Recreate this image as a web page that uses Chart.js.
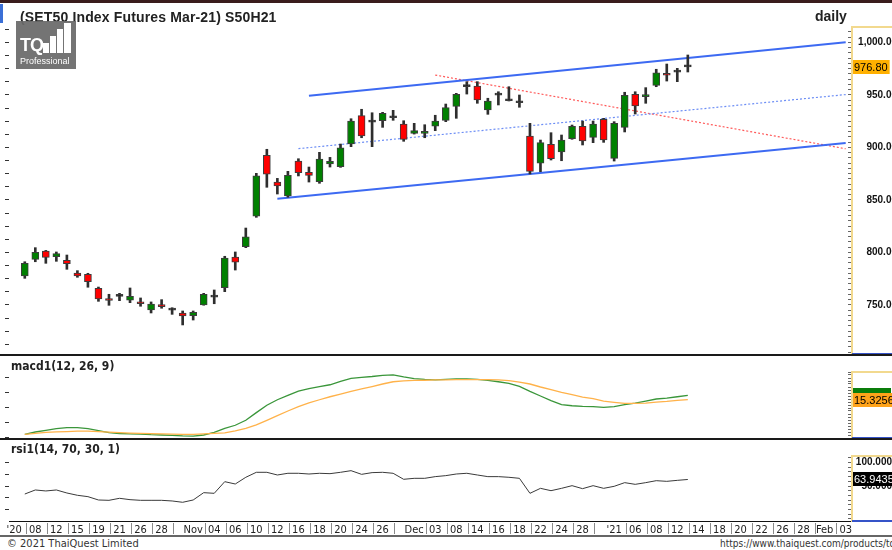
<!DOCTYPE html>
<html>
<head>
<meta charset="utf-8">
<script src="https://cdn.jsdelivr.net/npm/chart.js@4.4.1/dist/chart.umd.min.js"></script>
<style>
  html, body { margin: 0; padding: 0; background: #fff; }
  #wrap { position: relative; width: 892px; height: 550px; overflow: hidden; background: #fff; }
  canvas { position: absolute; left: 0; }
  .abs { position: absolute; white-space: nowrap; }
  .head { font: bold 14px "Liberation Sans", Arial, sans-serif; color: #222; }
  .narrow { font-family: "Liberation Sans Narrow", "DejaVu Sans Condensed", "Liberation Sans", sans-serif; }
  .sep { position: absolute; left: 0; width: 892px; height: 2px; background: #1a1a1a; }
</style>
</head>
<body>
<div id="wrap">
  <canvas id="priceChart" width="897" height="354" style="top:0"></canvas>
  <canvas id="macdChart" width="892" height="82" style="top:356px"></canvas>
  <canvas id="rsiChart" width="892" height="95" style="top:440px"></canvas>

  <div class="abs" style="left:0;top:0;width:892px;height:3px;background:#3a1c1c"></div>
  <div class="abs" style="left:0;top:4px;width:3px;height:19px;background:#3b6fd6"></div>
  <div class="abs head" style="left:20px;top:9px;letter-spacing:0.15px">(SET50 Index Futures Mar-21) S50H21</div>
  <div class="abs head" style="left:815px;top:8px">daily</div>

  <div class="sep" style="top:354px"></div>
  <div class="sep" style="top:438px"></div>
  <div class="abs" style="left:0;top:535px;width:892px;height:2px;background:#666"></div>

  <div class="abs narrow" style="left:11px;top:359px;font-size:12px;font-weight:bold;color:#222">macd1(12, 26, 9)</div>
  <div class="abs narrow" style="left:11px;top:442px;font-size:12px;font-weight:bold;color:#222">rsi1(14, 70, 30, 1)</div>
  <div class="abs narrow" style="left:7px;top:537px;font-size:11px;color:#333">© 2021 ThaiQuest Limited</div>
  <div class="abs narrow" style="left:720px;top:538px;font-size:10px;color:#333">https://www.thaiquest.com/products/tqprofessional/</div>

  <!-- logo -->
  <div class="abs" style="left:16px;top:21px;width:60px;height:48px;background:rgba(105,105,105,0.93)">
    <div class="abs" style="left:4px;top:14px;color:#fff;font:bold 18px 'Liberation Sans',Arial;letter-spacing:-1px">TQ</div>
    <div class="abs" style="left:27px;top:22px;width:6px;height:10px;background:#fff"></div>
    <div class="abs" style="left:34px;top:15px;width:6px;height:17px;background:#fff"></div>
    <div class="abs" style="left:41px;top:8px;width:6px;height:24px;background:#fff"></div>
    <div class="abs" style="left:48px;top:2px;width:7px;height:30px;background:#fff"></div>
    <div class="abs" style="left:4px;top:35px;color:#fff;font:9px 'Liberation Sans',Arial">Professional</div>
  </div>
</div>

<script>
// tick labels along the date axis (one slot per trading day, blanks are unlabelled days)
const dateLabels = ["'20", '', '08', '', '12', '', '15', '', '19', '', '21', '', '26', '', '28', '', '', 'Nov', '', '04',
  '', '06', '', '10', '', '12', '', '16', '', '18', '', '20', '', '24', '', '26', '', '', 'Dec', '',
  '03', '', '08', '', '14', '', '16', '', '18', '', '22', '', '24', '', '28', '', '', "'21", '', '06',
  '', '08', '', '12', '', '14', '', '18', '', '20', '', '22', '', '26', '', '28', '', 'Feb', '', '03'];

// daily OHLC, first candle sits in slot 1
const opens = [777.6, 793.5, 801.4, 796.0, 792.6, 780.5, 779.2, 765.9, 754.8, 758.2,
  754.5, 752.9, 745.2, 750.3, 745.3, 742.4, 739.8, 750.0, 757.5, 766.5,
  795.7, 805.5, 834.5, 892.6, 867.1, 853.8, 887.1, 876.3, 867.5, 884.3,
  881.7, 903.3, 930.3, 924.2, 925.5, 928.3, 922.4, 913.5, 913.5, 920.2,
  925.9, 939.2, 958.0, 958.6, 935.7, 950.1, 944.7, 942.6, 910.8, 885.0,
  903.0, 895.7, 908.4, 920.2, 909.7, 926.8, 889.7, 919.2, 950.7, 948.4,
  959.2, 970.3, 971.8, 976.9];
const highs = [791.2, 804.6, 802.0, 800.5, 797.6, 782.7, 780.2, 767.1, 760.2, 761.1,
  766.2, 756.7, 752.9, 755.1, 747.4, 744.3, 744.3, 761.1, 764.3, 796.4,
  800.5, 823.3, 875.4, 898.3, 870.6, 877.3, 889.3, 881.4, 895.4, 890.6,
  903.3, 927.4, 936.4, 933.1, 933.5, 935.4, 925.5, 923.0, 921.7, 930.7,
  941.4, 951.6, 962.7, 962.7, 946.9, 953.1, 957.9, 950.0, 923.0, 907.1,
  914.1, 911.9, 921.4, 925.2, 925.2, 927.8, 924.6, 952.6, 953.1, 957.0,
  974.5, 979.5, 975.4, 988.1];
const lows = [775.4, 791.2, 789.7, 791.6, 784.0, 776.4, 766.9, 753.5, 749.7, 754.1,
  752.2, 748.8, 742.4, 746.9, 741.1, 731.0, 735.7, 749.8, 751.2, 762.7,
  783.3, 804.6, 833.5, 862.1, 855.7, 852.6, 872.9, 867.1, 865.9, 881.4,
  881.1, 900.8, 909.3, 900.8, 919.2, 925.9, 905.9, 912.8, 909.3, 916.0,
  924.6, 927.8, 950.9, 942.1, 931.6, 940.5, 944.3, 938.3, 874.8, 877.0,
  888.1, 887.4, 907.8, 902.4, 904.6, 904.9, 887.1, 914.8, 931.9, 942.1,
  957.9, 963.3, 962.7, 971.9];
const closes = [789.7, 800.2, 795.4, 798.9, 789.3, 777.6, 772.2, 755.7, 754.3, 758.4,
  758.3, 751.2, 750.9, 748.4, 745.1, 739.5, 743.0, 760.2, 757.7, 794.8,
  790.7, 815.0, 872.9, 874.5, 863.3, 873.5, 876.0, 873.5, 889.0, 886.8,
  899.8, 925.2, 911.0, 924.4, 932.6, 928.5, 907.8, 916.0, 914.8, 925.2,
  937.9, 950.7, 958.2, 945.2, 944.3, 949.9, 944.5, 942.8, 877.3, 904.6,
  889.3, 907.0, 920.2, 906.2, 922.4, 907.1, 923.0, 949.7, 939.5, 950.0,
  971.0, 968.8, 972.0, 976.8];

// macd(12,26,9) and its signal
const macdLine = [-7.8, -6.2, -5.1, -4.0, -3.3, -3.3, -4.0, -5.3, -6.6, -7.2,
  -7.4, -7.6, -8.0, -8.2, -8.5, -8.8, -8.9, -8.2, -6.4, -3.8,
  -1.7, 1.6, 6.7, 11.6, 15.3, 18.2, 21.1, 22.7, 24.0, 25.3,
  27.6, 29.6, 30.2, 30.8, 31.6, 31.9, 30.5, 29.4, 28.9, 28.6,
  28.9, 29.2, 29.2, 28.9, 28.2, 27.3, 26.2, 24.2, 20.9, 17.8,
  14.7, 12.0, 11.3, 10.9, 10.7, 10.2, 10.7, 12.0, 13.1, 14.4,
  15.8, 16.4, 17.3, 18.2];
const signalLine = [-7.8, -7.1, -6.4, -6.1, -5.9, -5.6, -5.6, -6.0, -6.3, -6.6,
  -6.9, -7.1, -7.3, -7.5, -7.6, -7.8, -7.8, -7.5, -7.1, -6.8,
  -5.5, -3.8, -1.5, 1.6, 4.7, 7.8, 10.7, 13.2, 15.3, 17.3,
  19.1, 20.9, 22.5, 24.1, 25.8, 27.3, 27.9, 28.2, 28.3, 28.5,
  28.6, 28.7, 28.7, 28.7, 28.7, 28.5, 28.1, 27.1, 25.8, 23.8,
  22.0, 20.2, 18.7, 17.1, 16.0, 14.4, 13.6, 12.9, 12.9, 13.0,
  13.7, 14.2, 14.9, 15.3256];

// rsi(14)
const rsiLine = [33.0, 41.6, 39.5, 41.6, 35.2, 30.3, 27.4, 20.3, 19.6, 23.9,
  21.0, 19.6, 19.6, 19.6, 18.2, 15.4, 20.3, 35.9, 34.5, 59.3,
  54.3, 68.6, 79.2, 79.2, 73.5, 77.1, 77.1, 75.6, 77.1, 76.3,
  79.2, 82.7, 74.9, 78.5, 79.2, 77.1, 64.3, 66.4, 66.4, 70.0,
  72.1, 75.6, 77.1, 73.5, 70.0, 70.0, 68.6, 66.4, 34.5, 45.1,
  40.1, 45.1, 50.8, 44.4, 50.8, 45.1, 49.4, 57.2, 53.6, 57.2,
  61.4, 60.0, 62.1, 63.9435];

// trend lines drawn on the price panel: [slot, price]
const upperChannel = [[28, 949.3], [79, 1000.2]];
const lowerChannel = [[25, 851.2], [79, 904.2]];
const midChannel = [[27, 898.9], [79, 950.4]];
const redTrend = [[40, 969.0], [79, 898.8]];

Chart.defaults.font.family = '"Liberation Sans", Arial, sans-serif';
Chart.defaults.animation = false;
Chart.defaults.plugins.legend.display = false;
Chart.defaults.plugins.tooltip.enabled = false;

const X_MIN = -0.5, X_MAX = 79.6;
const PLOT_RIGHT = 852;
const NARROW = '"Liberation Sans Narrow", "DejaVu Sans Condensed", "Liberation Sans", sans-serif';
const labelSlots = dateLabels.map((l, i) => l ? i : -1).filter(i => i >= 0);

function zeroPad(s) { s.paddingTop = 0; s.paddingBottom = 0; s.paddingLeft = 0; s.paddingRight = 0; }

function hiddenX() {
  return { type: 'linear', min: X_MIN, max: X_MAX, offset: false, display: false };
}
function leftAxis(min, max, step) {
  return {
    type: 'linear', position: 'left', min, max,
    grid: { drawOnChartArea: false, tickLength: 4, color: '#333' },
    border: { display: false },
    ticks: { display: false, stepSize: step, includeBounds: false, autoSkip: false },
    afterFit: (s) => { s.width = 9; zeroPad(s); }
  };
}
// labels are right aligned on the canvas edge, so each canvas width sets where they end
function rightAxis(min, max, step, labelFn) {
  return {
    type: 'linear', position: 'right', min, max,
    grid: { drawOnChartArea: false, tickLength: -4, color: '#666' },
    border: { color: '#f2d98e', width: 2 },
    ticks: {
      stepSize: step, includeBounds: false, autoSkip: false, crossAlign: 'far', padding: 4,
      color: '#111', font: { size: 10, weight: 'bold' }, callback: labelFn
    },
    afterFit: (s) => { s.width = s.chart.width - PLOT_RIGHT; zeroPad(s); }
  };
}
function line(points, color, width, dash) {
  return {
    type: 'line', data: points.map(p => ({ x: p[0], y: p[1] })),
    borderColor: color, borderWidth: width, borderDash: dash || [], pointRadius: 0, order: 3
  };
}
function series(values, color, width) {
  return {
    data: values.map((v, i) => ({ x: i + 1, y: v })),
    borderColor: color, borderWidth: width, pointRadius: 0, tension: 0
  };
}

// beige cap, blue foot and value tags at the right axis
const decorPlugin = {
  id: 'decor',
  afterDraw(chart, args, opts) {
    const { ctx, chartArea: a } = chart;
    const y = chart.scales.y;
    ctx.save();
    ctx.fillStyle = '#f2d98e';
    ctx.fillRect(a.right, a.top - 1, chart.width - a.right, 2);
    ctx.fillStyle = '#3553c8';
    ctx.fillRect(a.right, a.bottom - 1, chart.width - a.right, 2);
    ctx.font = '11px "Liberation Sans", Arial';
    ctx.textBaseline = 'middle';
    (opts.tags || []).forEach(t => {
      const py = Math.round(y.getPixelForValue(t.value));
      const w = t.text ? ctx.measureText(t.text).width + 3 : 38;
      ctx.fillStyle = t.bg;
      ctx.fillRect(a.right + 1, py - 7, w, 14);
      if (t.text) {
        ctx.fillStyle = t.fg;
        ctx.fillText(t.text, a.right + 2, py + 1);
      }
    });
    if (opts.separators) {
      const x = chart.scales.x;
      ctx.fillStyle = '#8a8a8a';
      labelSlots.forEach(i => {
        const px = Math.round(x.getPixelForValue(i + 1)) + 1;
        if (px < a.right) ctx.fillRect(px, a.bottom + 2, 1, 11);
      });
    }
    ctx.restore();
  }
};

// price panel
const bodyColors = opens.map((o, i) => Math.abs(closes[i] - o) < 0.5 ? '#1e1e1e' : (closes[i] > o ? '#008000' : '#ff0000'));
new Chart(document.getElementById('priceChart'), {
  type: 'bar',
  data: {
    datasets: [
      {
        data: opens.map((o, i) => ({ x: i + 1, y: [o, closes[i]] })),
        backgroundColor: bodyColors, borderColor: '#3c3c3c', borderWidth: 1, borderSkipped: false,
        barThickness: 7, minBarLength: 2, grouped: false, order: 1
      },
      {
        data: highs.map((h, i) => ({ x: i + 1, y: [lows[i], h] })),
        backgroundColor: '#2e2e2e', borderWidth: 0, barThickness: 2, grouped: false, order: 2
      },
      line(upperChannel, '#3d6af2', 2),
      line(lowerChannel, '#3d6af2', 2),
      line(midChannel, '#6d8ef5', 1.2, [2, 2]),
      line(redTrend, '#ff5a5a', 1.2, [2, 2])
    ]
  },
  options: {
    responsive: false,
    layout: { padding: { top: 27, bottom: 0, left: 0, right: 0 } },
    scales: {
      x: hiddenX(),
      yl: leftAxis(703.33, 1014.76, 12.5),
      y: rightAxis(703.33, 1014.76, 5, v => v % 50 === 0 ? v.toLocaleString('en-US', { minimumFractionDigits: 2 }) : '')
    },
    plugins: { decor: { tags: [{ value: closes[closes.length - 1], bg: '#ffb000', fg: '#000', text: closes[closes.length - 1].toFixed(2) }] } }
  },
  plugins: [decorPlugin]
});

// macd panel
new Chart(document.getElementById('macdChart'), {
  type: 'line',
  data: {
    datasets: [
      series(signalLine, '#ffb24a', 1.3),
      series(macdLine, '#3a963a', 1.3)
    ]
  },
  options: {
    responsive: false,
    layout: { padding: { top: 16, bottom: 0, left: 0, right: 0 } },
    scales: {
      x: hiddenX(),
      yl: leftAxis(-10.2, 33.8, 10),
      y: rightAxis(-10.2, 33.8, 2, () => '')
    },
    plugins: {
      decor: {
        tags: [
          { value: macdLine[macdLine.length - 1], bg: '#0a7d0a' },
          { value: signalLine[signalLine.length - 1], bg: '#ffa31a', fg: '#000', text: signalLine[signalLine.length - 1].toFixed(4) }
        ]
      }
    }
  },
  plugins: [decorPlugin]
});

// rsi panel with the date axis
new Chart(document.getElementById('rsiChart'), {
  type: 'line',
  data: { datasets: [series(rsiLine, '#3a3a3a', 1)] },
  options: {
    responsive: false,
    layout: { padding: { top: 16, bottom: 0, left: 0, right: 0 } },
    scales: {
      x: {
        type: 'linear', min: X_MIN, max: X_MAX, offset: false, position: 'bottom',
        grid: { drawOnChartArea: false, drawTicks: false },
        border: { color: '#111', width: 1 },
        ticks: {
          autoSkip: false, maxRotation: 0, padding: 3, color: '#222',
          font: { family: NARROW, size: 11 },
          callback: v => dateLabels[v] || ''
        },
        afterBuildTicks: (s) => { s.ticks = labelSlots.map(v => ({ value: v })); },
        afterFit: (s) => { s.height = 14; zeroPad(s); }
      },
      yl: leftAxis(-24.4, 113.9, 25),
      y: rightAxis(-24.4, 113.9, 10, v => (v === 100 || v === 50) ? v.toFixed(3) : '')
    },
    plugins: {
      decor: {
        separators: true,
        tags: [{ value: rsiLine[rsiLine.length - 1], bg: '#000', fg: '#fff', text: rsiLine[rsiLine.length - 1].toFixed(4) }]
      }
    }
  },
  plugins: [decorPlugin]
});
</script>
</body>
</html>
